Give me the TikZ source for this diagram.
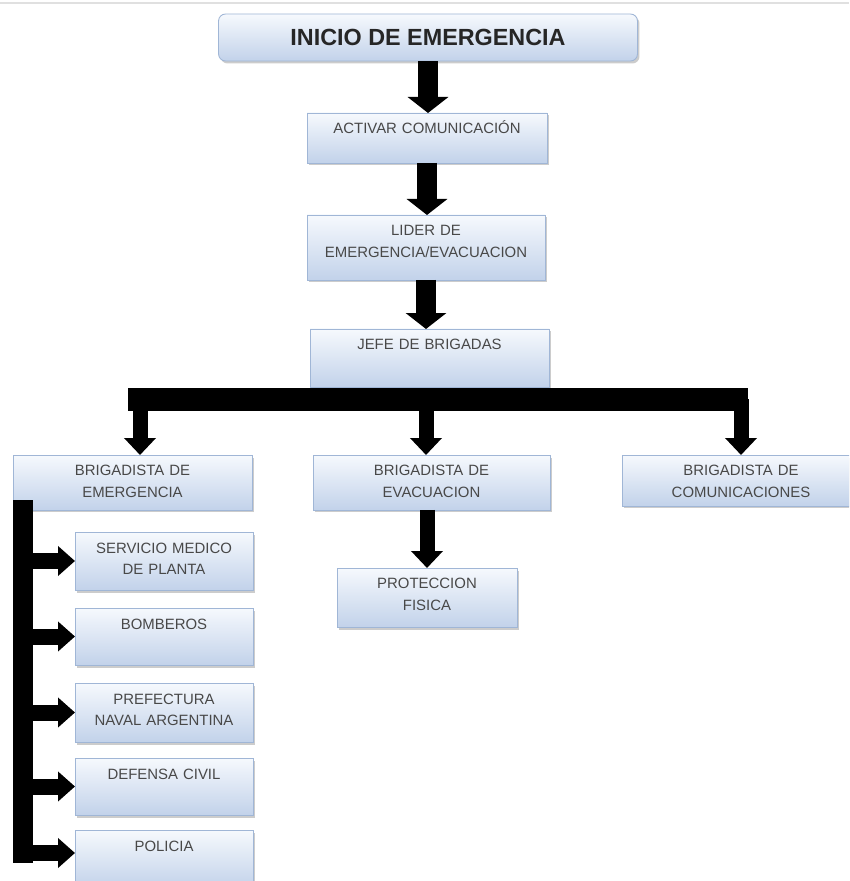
\documentclass[tikz,border=0pt]{standalone}
\usepackage{fontspec}
\setmainfont{Liberation Sans}
\usetikzlibrary{arrows.meta,shadows,calc}
\definecolor{boxtop}{RGB}{246,249,253}
\definecolor{boxbottom}{RGB}{194,210,234}
\definecolor{boxline}{RGB}{160,182,214}
\definecolor{boxtext}{RGB}{72,72,72}
\begin{document}
\begin{tikzpicture}[
    x=0.02cm, y=-0.02cm,
    every node/.style={font=\fontsize{8.5}{12}\selectfont},
    box/.style 2 args={draw=boxline, line width=0.5pt, top color=boxtop, bottom color=boxbottom,
        drop shadow={shadow xshift=0.04cm, shadow yshift=-0.05cm, opacity=0.4},
        inner sep=0pt, outer sep=0pt, anchor=north, align=center, text=boxtext,
        text width=#1*0.02cm, text height=0.42cm, text depth=(#2-21)*0.02cm},
    title/.style={draw=boxline, line width=0.5pt, rounded corners=0.14cm,
        top color=boxtop, bottom color=boxbottom,
        drop shadow={shadow xshift=0.04cm, shadow yshift=-0.05cm, opacity=0.4},
        inner sep=0pt, minimum width=8.38cm, minimum height=0.94cm,
        font=\bfseries\fontsize{13.3}{16}\selectfont, text=black!85},
    arr/.style={line width=0.4cm, -{Triangle[width=0.8cm,length=0.32cm]}},
    droparr/.style={line width=0.3cm, -{Triangle[width=0.62cm,length=0.34cm]}},
    sidearr/.style={line width=0.32cm, -{Triangle[width=0.58cm,length=0.34cm]}},
    busbar/.style={line width=0.46cm},
    spinebar/.style={line width=0.4cm, line cap=rect}
]
% page
\path[use as bounding box, clip] (0,0) rectangle (849,881);
\fill[white] (0,0) rectangle (849,881);
\draw[black!12, line width=1pt] (0,3) -- (849,3);

% Main column
\node[title] (inicio) at (428,37.5) {INICIO DE EMERGENCIA};
\node[box={240}{50}] (activar) at (427,113) {ACTIVAR COMUNICACIÓN};
\node[box={238}{65}] (lider) at (426,215) {LIDER DE\\EMERGENCIA/EVACUACION};
\node[box={239}{58}] (jefe) at (429.5,329) {JEFE DE BRIGADAS};

% Brigadistas
\node[box={239}{55}] (bemerg) at (132.5,455) {BRIGADISTA DE\\EMERGENCIA};
\node[box={237}{55}] (bevac) at (431.5,455) {BRIGADISTA DE\\EVACUACION};
\node[box={238}{51}] (bcom) at (741,455) {BRIGADISTA DE\\COMUNICACIONES};

% Apoyo (emergencia)
\node[box={178}{58}] (servicio) at (164,532) {SERVICIO MEDICO\\DE PLANTA};
\node[box={178}{57}] (bomberos) at (164,608) {BOMBEROS};
\node[box={178}{59}] (prefectura) at (164,683) {PREFECTURA\\NAVAL ARGENTINA};
\node[box={178}{57}] (defensa) at (164,758) {DEFENSA CIVIL};
\node[box={178}{58}] (policia) at (164,830) {POLICIA};

% Apoyo (evacuacion)
\node[box={180}{59}] (proteccion) at (427,568) {PROTECCION\\FISICA};

% Arrows (main column)
\draw[arr] (inicio.south) -- (inicio.south |- activar.north);
\draw[arr] (activar.south) -- (activar.south |- lider.north);
\draw[arr] (lider.south) -- (lider.south |- jefe.north);

% Bus to brigadistas
\coordinate (bus) at ($(jefe.south)+(0,12.5)$);
\draw[busbar] ($(bus -| bemerg.north)+(-4.5,0)$) -- ($(bus -| bcom.north)+(7,0)$);
\foreach \b/\dx in {bemerg/7.5,bevac/-5.5,bcom/0}
  \draw[droparr] ($(bus -| \b.north)+(\dx,0)$) -- ($(\b.north)+(\dx,0)$);

% Spine to apoyo
\coordinate (spine) at ($(bemerg.south west)+(10,0)$);
\coordinate (last) at ($(policia.west)+(0,-6)$);
\draw[spinebar] (bemerg.south -| spine) -- (last -| spine);
\foreach \s in {servicio,bomberos,prefectura,defensa}
  \draw[sidearr] (\s.west -| spine) -- (\s.west);
\draw[sidearr] (last -| spine) -- (last);

\draw[droparr] (bevac.south -| proteccion.north) -- (proteccion.north);
\end{tikzpicture}
\end{document}
